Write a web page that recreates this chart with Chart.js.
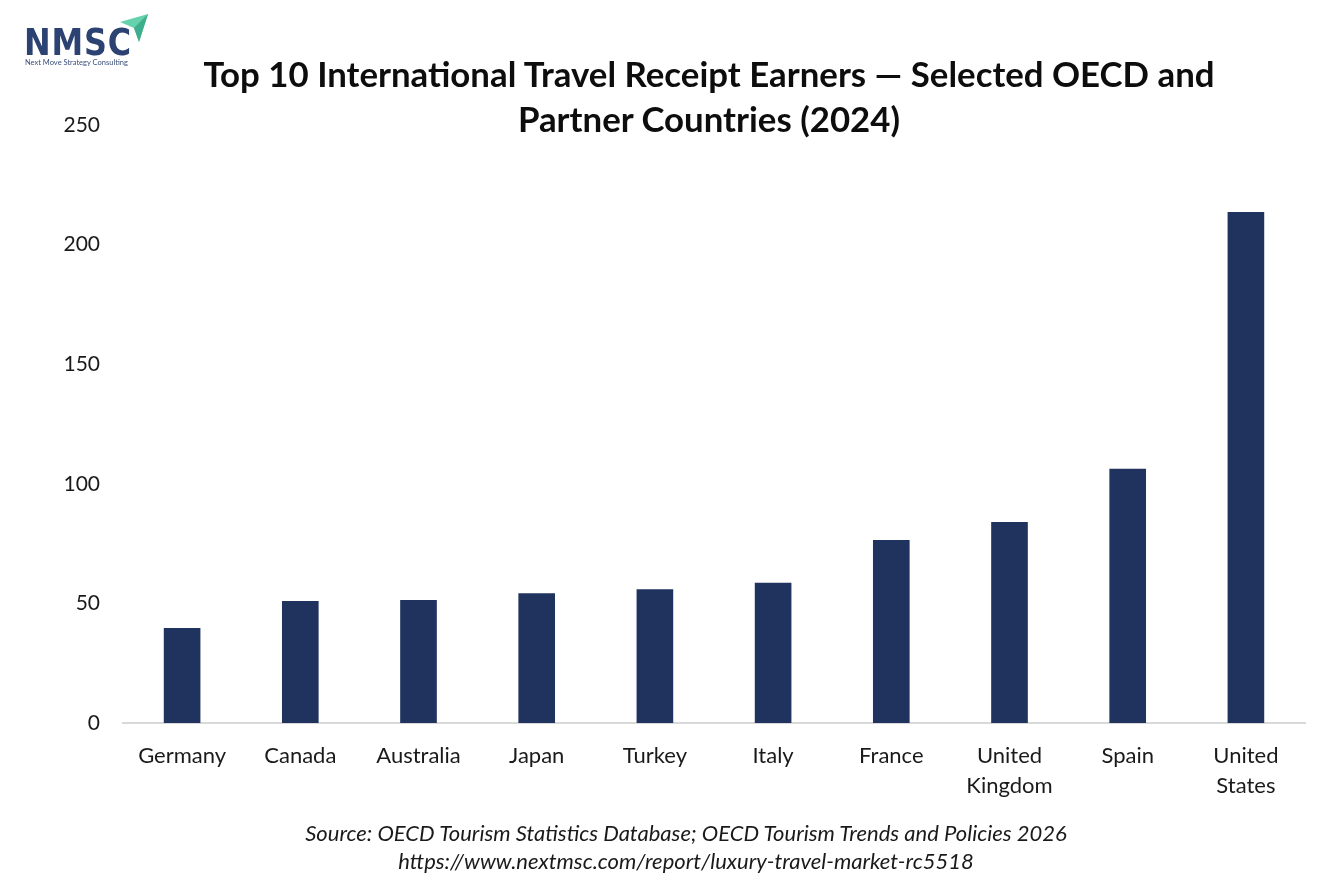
<!DOCTYPE html>
<html>
<head>
<meta charset="utf-8">
<script src="https://cdn.jsdelivr.net/npm/chart.js@4.4.1/dist/chart.umd.min.js"></script>
<style>
  html, body { margin: 0; padding: 0; background: #ffffff; }
  body { width: 1334px; height: 889px; position: relative; overflow: hidden; font-family: Lato, "Open Sans", sans-serif; }
  #wrap { position: absolute; left: 0; top: 0; width: 1334px; height: 889px; }
  #title { position: absolute; left: 109px; width: 1200px; top: 51px; text-align: center; font-weight: 700; font-size: 34.8px; line-height: 45px; color: #0d0d0d; white-space: nowrap; }
  #source { position: absolute; left: 186px; width: 1000px; top: 819px; text-align: center; font-style: italic; font-size: 22px; line-height: 28px; color: #1a1a1a; white-space: nowrap; }
  #logo { position: absolute; left: 22px; top: 12px; width: 140px; height: 60px; }
  #logoText { position: absolute; left: 2px; top: 13px; font-family: "DejaVu Sans", sans-serif; font-weight: 700; font-size: 37px; letter-spacing: 1px; color: #2c4272; line-height: 36px; transform: scaleX(0.86); transform-origin: 0 0; }
  #logoTag { position: absolute; left: 3px; top: 46px; font-size: 7.5px; color: #3a4f7a; white-space: nowrap; }
</style>
</head>
<body>
<div id="wrap"><canvas id="c" width="1334" height="889"></canvas></div>
<div id="logo">
  <svg width="140" height="60" style="position:absolute;left:0;top:0">
    <polygon points="98,10 126,2 117,30 112,16" fill="#66d1ad"/>
    <polygon points="112,16 117,30 126,2" fill="#3fae8c"/>
  </svg>
  <div id="logoText">NMSC</div>
  <div id="logoTag">Next Move Strategy Consulting</div>
</div>
<div id="title">Top 10 International Travel Receipt Earners — Selected OECD and<br>Partner Countries (2024)</div>
<div id="source">Source: OECD Tourism Statistics Database; OECD Tourism Trends and Policies 2026<br>https://www.nextmsc.com/report/luxury-travel-market-rc5518</div>
<script>
const categories = [
  "Germany", "Canada", "Australia", "Japan", "Turkey", "Italy", "France",
  ["United", "Kingdom"], "Spain", ["United", "States"]
];
const receipts = [39.7, 51.0, 51.4, 54.2, 55.9, 58.6, 76.5, 84.0, 106.3, 213.6];
const yTicks = [0, 50, 100, 150, 200, 250];

const FONT = "Lato, 'Open Sans', sans-serif";

new Chart(document.getElementById('c'), {
  type: 'bar',
  data: {
    labels: categories,
    datasets: [{
      label: 'International travel receipts',
      data: receipts,
      backgroundColor: '#1f335e',
      borderWidth: 0,
      barPercentage: 0.31,
      categoryPercentage: 1.0
    }]
  },
  options: {
    responsive: false,
    animation: false,
    devicePixelRatio: 1,
    layout: { padding: { top: 125, bottom: 66, left: 0, right: 29 } },
    plugins: {
      legend: { display: false },
      title: { display: false },
      tooltip: { enabled: false }
    },
    scales: {
      x: {
        grid: { display: false, drawTicks: false },
        border: { display: true, color: '#d9d9d9', width: 2 },
        ticks: {
          color: '#1a1a1a',
          font: { family: FONT, size: 22, lineHeight: 1.36 },
          padding: 18,
          maxRotation: 0,
          autoSkip: false
        },
        afterFit: (s) => { s.height = 100; }
      },
      y: {
        min: 0,
        max: 250,
        afterBuildTicks: (s) => { s.ticks = yTicks.map(v => ({ value: v })); },
        grid: { display: false, drawTicks: false },
        border: { display: false },
        ticks: {
          color: '#1a1a1a',
          font: { family: FONT, size: 21 },
          padding: 23
        },
        afterFit: (s) => { s.width = 123; }
      }
    }
  }
});
</script>
</body>
</html>
